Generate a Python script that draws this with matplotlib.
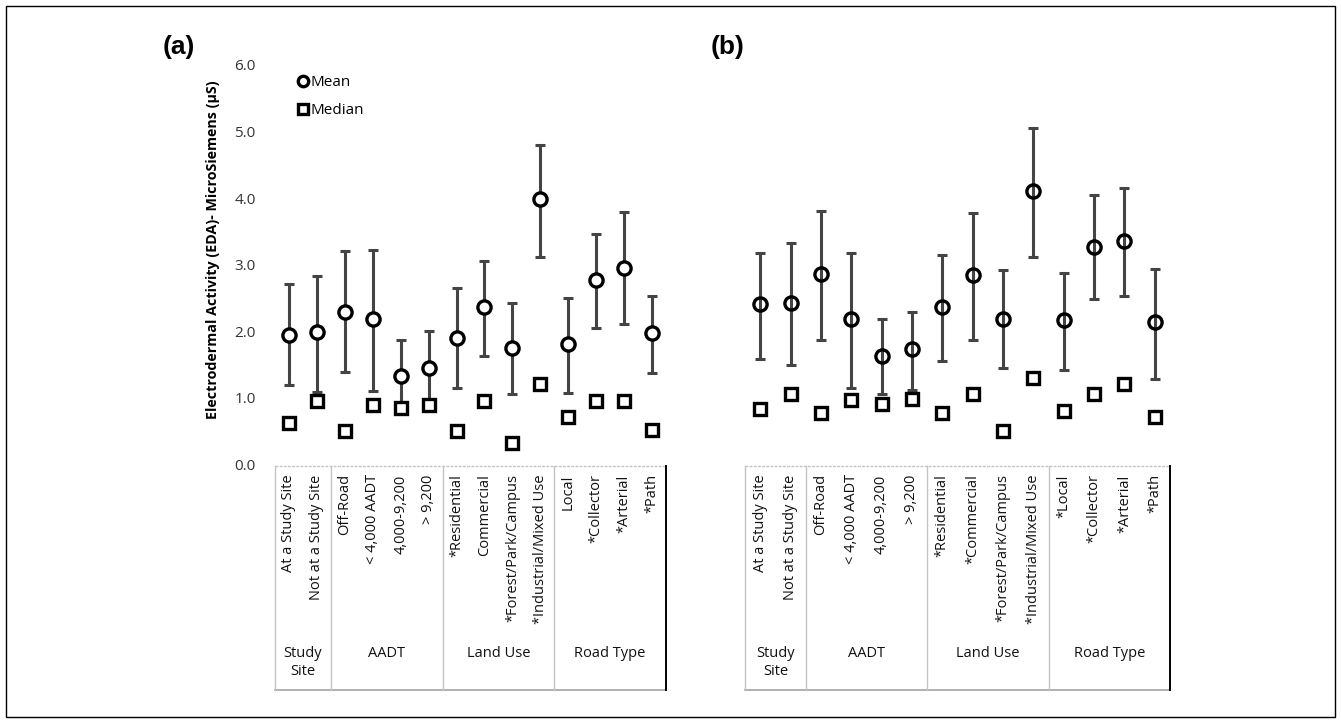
import numpy as np
import matplotlib.pyplot as plt
from matplotlib.lines import Line2D
from matplotlib.patches import Rectangle
import matplotlib.transforms as mtransforms

plt.rcParams['font.family'] = ['Open Sans', 'DejaVu Sans']

# categories, grouped
groups = ["Study\nSite", "AADT", "Land Use", "Road Type"]
group_sizes = [2, 4, 4, 4]
labels_a = ["At a Study Site", "Not at a Study Site", "Off-Road", "< 4,000 AADT",
            "4,000-9,200", "> 9,200", "*Residential", "Commercial",
            "*Forest/Park/Campus", "*Industrial/Mixed Use", "Local", "*Collector",
            "*Arterial", "*Path"]
labels_b = ["At a Study Site", "Not at a Study Site", "Off-Road", "< 4,000 AADT",
            "4,000-9,200", "> 9,200", "*Residential", "*Commercial",
            "*Forest/Park/Campus", "*Industrial/Mixed Use", "*Local", "*Collector",
            "*Arterial", "*Path"]

# panel (a)
mean_a = [1.94, 1.98, 2.28, 2.18, 1.33, 1.44, 1.90, 2.36, 1.74, 3.98, 1.81, 2.77, 2.95, 1.97]
low_a = [1.19, 1.09, 1.38, 1.10, 0.80, 0.88, 1.15, 1.62, 1.05, 3.12, 1.07, 2.05, 2.10, 1.37]
high_a = [2.70, 2.83, 3.20, 3.22, 1.87, 2.00, 2.65, 3.06, 2.42, 4.79, 2.50, 3.46, 3.79, 2.52]
median_a = [0.62, 0.95, 0.50, 0.89, 0.84, 0.89, 0.50, 0.95, 0.31, 1.20, 0.70, 0.94, 0.95, 0.51]

# panel (b)
mean_b = [2.40, 2.42, 2.86, 2.18, 1.62, 1.73, 2.36, 2.84, 2.18, 4.11, 2.17, 3.27, 3.36, 2.13]
low_b = [1.58, 1.49, 1.87, 1.15, 1.05, 1.11, 1.55, 1.87, 1.44, 3.12, 1.42, 2.48, 2.52, 1.28]
high_b = [3.17, 3.32, 3.80, 3.17, 2.18, 2.29, 3.15, 3.77, 2.91, 5.05, 2.87, 4.04, 4.15, 2.93]
median_b = [0.83, 1.05, 0.76, 0.96, 0.90, 0.98, 0.76, 1.05, 0.50, 1.29, 0.79, 1.05, 1.20, 0.70]

W, H = 1341, 723
fig = plt.figure(figsize=(W / 100, H / 100), dpi=100)

def px_axes(x0, x1, ytop, ybot):
    return fig.add_axes([x0 / W, 1 - ybot / H, (x1 - x0) / W, (ybot - ytop) / H])

def draw_panel(ax, labels, mean, low, high, median, show_y, mfc):
    x = np.arange(len(labels))
    mean = np.array(mean)
    yerr = [mean - np.array(low), np.array(high) - mean]
    ax.errorbar(x, mean, yerr=yerr, fmt='none', ecolor='#444444', elinewidth=2.2,
                capsize=3.3, capthick=2.2, zorder=2)
    ax.plot(x, mean, 'o', ms=9.5, mfc=mfc, mec='black', mew=2.4, ls='none', zorder=3)
    ax.plot(x, median, 's', ms=8.5, mfc='white', mec='black', mew=2.4, ls='none', zorder=4)

    ax.set_xlim(-0.5, len(labels) - 0.5)
    ax.set_ylim(0, 6)
    ax.set_xticks([])
    ax.set_yticks(np.arange(0, 7, 1))
    for s in ax.spines.values():
        s.set_visible(False)
    ax.tick_params(axis='y', length=0, pad=14, labelsize=11, labelcolor='#333333')
    if show_y:
        ax.set_yticklabels(["%.1f" % v for v in np.arange(0, 7, 1)])
    else:
        ax.set_yticklabels([])

    trans = mtransforms.blended_transform_factory(ax.transData, ax.transAxes)
    top, bot = -0.006, -0.566
    n = len(labels)
    for i, lab in enumerate(labels):
        ax.text(i, -0.026, lab, rotation=90, ha='center', va='top', fontsize=10.5,
                transform=trans, color='#111111')
    # table lines
    gc = '#c4c4c4'
    ax.plot([-0.5, n - 0.5], [top, top], color=gc, lw=1, ls=(0, (2, 1)),
            transform=trans, clip_on=False)
    ax.plot([-0.5, n - 0.5], [bot, bot], color='#aaaaaa', lw=1.3,
            transform=trans, clip_on=False)
    edges = np.concatenate([[0], np.cumsum(group_sizes)]) - 0.5
    for e in edges[:-1]:
        ax.plot([e, e], [top, bot], color=gc, lw=1, transform=trans, clip_on=False)
    ax.plot([edges[-1], edges[-1]], [top, bot], color='black', lw=1.4,
            transform=trans, clip_on=False)
    for g, a, b in zip(groups, edges[:-1], edges[1:]):
        ax.text((a + b) / 2, -0.455, g, ha='center', va='top', fontsize=10.5,
                transform=trans, linespacing=1.3, color='#111111')

ax_a = px_axes(275, 666, 65, 464)
draw_panel(ax_a, labels_a, mean_a, low_a, high_a, median_a, True, 'white')
ax_b = px_axes(745, 1170, 65, 464)
draw_panel(ax_b, labels_b, mean_b, low_b, high_b, median_b, False, 'none')

handles = [Line2D([], [], marker='o', ms=7.5, mfc='white', mec='black', mew=2.4, ls='none'),
           Line2D([], [], marker='s', ms=7.5, mfc='white', mec='black', mew=2.4, ls='none')]
ax_a.legend(handles, ["Mean", "Median"], loc='upper left', bbox_to_anchor=(0.045, 0.99),
            frameon=False, handlelength=0.6, handletextpad=0.15, labelspacing=0.85,
            fontsize=11, borderaxespad=0)

fig.text(213 / W, 1 - 250 / H, "Electrodermal Activity (EDA)- MicroSiemens (µS)",
         rotation=90, ha='center', va='center', fontsize=10.3, fontweight='bold')
fig.text(179 / W, 1 - 47 / H, "(a)", ha='center', va='center', fontsize=19,
         fontweight='bold', family='Liberation Sans')
fig.text(728 / W, 1 - 47 / H, "(b)", ha='center', va='center', fontsize=19,
         fontweight='bold', family='Liberation Sans')

fig.patches.append(Rectangle((6 / W, 6 / H), 1 - 12 / W, 1 - 12 / H, transform=fig.transFigure,
                             fill=False, ec='black', lw=1))

fig.savefig("out.png", dpi=100)
